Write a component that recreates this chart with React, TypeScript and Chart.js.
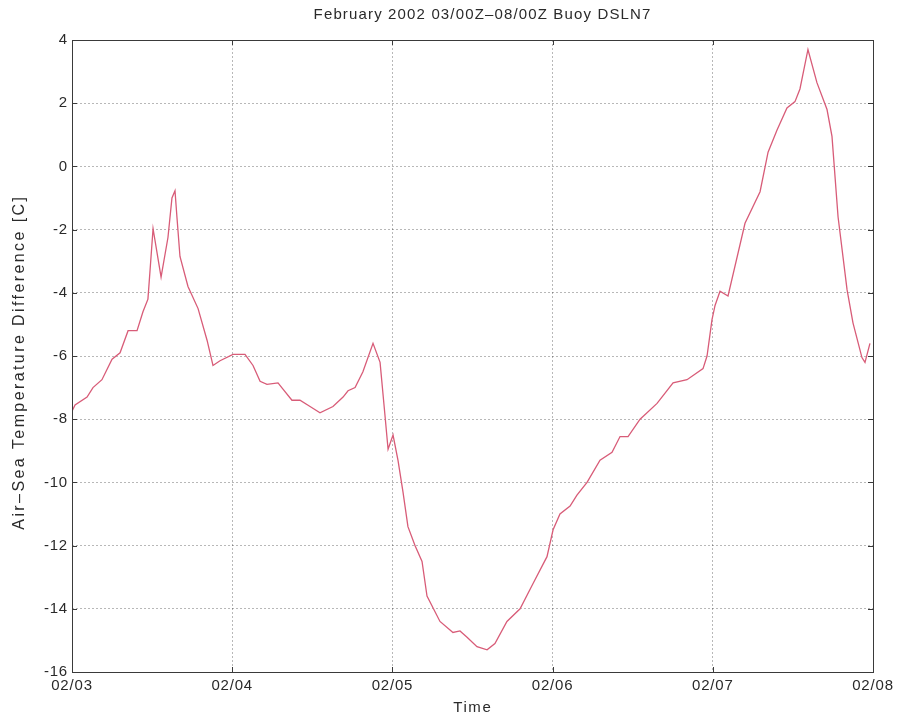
import React, { useEffect, useRef } from "react";
import { Chart, registerables } from "chart.js";

Chart.register(...registerables);

// Time in days after 02/03 00Z
const timeDays = [
  0, 0.019, 0.094, 0.131, 0.187, 0.25, 0.3, 0.35, 0.406, 0.443, 0.474, 0.487,
  0.506, 0.556, 0.599, 0.624, 0.643, 0.655, 0.674, 0.724, 0.787, 0.843, 0.88,
  0.924, 1.005, 1.08, 1.13, 1.174, 1.217, 1.286, 1.317, 1.373, 1.423, 1.486,
  1.548, 1.629, 1.692, 1.723, 1.767, 1.816, 1.879, 1.923, 1.954, 1.973, 2.004,
  2.035, 2.066, 2.097, 2.141, 2.185, 2.216, 2.297, 2.378, 2.422, 2.466, 2.528,
  2.591, 2.64, 2.715, 2.797, 2.878, 2.965, 3.003, 3.046, 3.109, 3.152, 3.215,
  3.296, 3.371, 3.421, 3.471, 3.546, 3.652, 3.752, 3.839, 3.939, 3.964, 3.995,
  4.014, 4.045, 4.095, 4.201, 4.295, 4.345, 4.401, 4.463, 4.513, 4.544, 4.594,
  4.65, 4.713, 4.744, 4.782, 4.838, 4.875, 4.931, 4.95, 4.981,
];

// Air-Sea temperature difference [C]
const tempDiff = [
  -7.75, -7.55, -7.3, -7.0, -6.75, -6.1, -5.9, -5.2, -5.2, -4.6, -4.2, -3.3,
  -1.97, -3.5, -2.25, -1.0, -0.77, -1.6, -2.85, -3.8, -4.5, -5.5, -6.3,
  -6.15, -5.95, -5.95, -6.3, -6.8, -6.9, -6.85, -7.05, -7.4, -7.4, -7.6,
  -7.8, -7.6, -7.3, -7.1, -7.0, -6.5, -5.6, -6.2, -7.9, -8.95, -8.5,
  -9.3, -10.3, -11.4, -12.0, -12.5, -13.6, -14.4, -14.75, -14.7, -14.9, -15.2,
  -15.3, -15.1, -14.4, -14.0, -13.2, -12.35, -11.5, -11.0, -10.75, -10.4, -10.0,
  -9.3, -9.05, -8.55, -8.55, -8.0, -7.5, -6.85, -6.75, -6.4, -6.0, -4.85,
  -4.4, -3.95, -4.1, -1.8, -0.8, 0.45, 1.15, 1.85, 2.05, 2.45, 3.7,
  2.65, 1.8, 0.95, -1.6, -3.9, -4.95, -6.05, -6.2, -5.6,
];

const xTickLabels = ["02/03", "02/04", "02/05", "02/06", "02/07", "02/08"];
const yTicks = [4, 2, 0, -2, -4, -6, -8, -10, -12, -14, -16];

const titleText = "February 2002 03/00Z\u201308/00Z Buoy DSLN7";
const xTitle = "Time";
const yTitle = "Air\u2013Sea Temperature Difference [C]";

const FONT = "'Liberation Sans', Arial, Helvetica, sans-serif";
const TEXT_COLOR = "#2a2a2a";

// draws a text stretched (by letter spacing) to a target width
function spacedText(ctx: any, text: string, cx: number, cy: number, size: number, targetW: number, rot: number) {
  ctx.save();
  ctx.font = `${size}px ${FONT}`;
  ctx.letterSpacing = "0px";
  const w = ctx.measureText(text).width;
  const ls = Math.max(0, (targetW - w) / text.length);
  ctx.letterSpacing = `${ls}px`;
  ctx.fillStyle = TEXT_COLOR;
  ctx.textAlign = "center";
  ctx.textBaseline = "middle";
  ctx.translate(cx + (rot ? 0 : ls / 2), cy + (rot ? ls / 2 : 0));
  ctx.rotate(rot);
  ctx.fillText(text, 0, 0);
  ctx.restore();
}

const boxPlugin = {
  id: "matlabBox",
  beforeDraw(chart: any) {
    chart.ctx.letterSpacing = "0.8px";
  },
  afterDraw(chart: any) {
    const { ctx, chartArea } = chart;
    const { left, right, top, bottom } = chartArea;
    const xs = chart.scales.x;
    const ys = chart.scales.y;
    ctx.save();
    ctx.strokeStyle = "#3a3a3a";
    ctx.lineWidth = 1;
    ctx.setLineDash([]);
    ctx.strokeRect(Math.round(left) + 0.5, Math.round(top) + 0.5, Math.round(right - left), Math.round(bottom - top));
    const tl = 5;
    ctx.beginPath();
    xs.ticks.forEach((t: any) => {
      const px = Math.round(xs.getPixelForValue(t.value)) + 0.5;
      ctx.moveTo(px, bottom);
      ctx.lineTo(px, bottom - tl);
      ctx.moveTo(px, top);
      ctx.lineTo(px, top + tl);
    });
    ys.ticks.forEach((t: any) => {
      const py = Math.round(ys.getPixelForValue(t.value)) + 0.5;
      ctx.moveTo(left, py);
      ctx.lineTo(left + tl, py);
      ctx.moveTo(right, py);
      ctx.lineTo(right - tl, py);
    });
    ctx.stroke();
    ctx.restore();

    spacedText(ctx, titleText, 482, 15, 15, 338, 0);
    spacedText(ctx, xTitle, 472, 708, 15, 39, 0);
    spacedText(ctx, yTitle, 20, 361, 16, 335, -Math.PI / 2);
  },
};

export default function App() {
  const ref = useRef<HTMLCanvasElement | null>(null);

  useEffect(() => {
    document.body.style.margin = "0";
    document.body.style.background = "#fff";
    const canvas = ref.current;
    if (!canvas) return;
    const data = timeDays.map((t, i) => ({ x: t, y: tempDiff[i] }));
    const chart = new Chart(canvas, {
      type: "line",
      data: {
        datasets: [
          {
            data,
            borderColor: "#d85c78",
            borderWidth: 1.3,
            pointRadius: 0,
            fill: false,
            tension: 0,
          },
        ],
      },
      options: {
        animation: false,
        responsive: false,
        maintainAspectRatio: false,
        layout: { padding: { left: 0, right: 28, top: 40, bottom: 0 } },
        plugins: {
          legend: { display: false },
          tooltip: { enabled: false },
          title: { display: false },
        },
        scales: {
          x: {
            type: "linear",
            min: 0,
            max: 5,
            afterFit: (s: any) => {
              s.height = 49;
            },
            afterBuildTicks: (s: any) => {
              s.ticks = xTickLabels.map((_, i) => ({ value: i }));
            },
            ticks: {
              color: TEXT_COLOR,
              font: { family: FONT, size: 15 },
              padding: 5,
              maxRotation: 0,
              autoSkip: false,
              callback: (v: any) => xTickLabels[Math.round(Number(v))] ?? "",
            },
            grid: {
              color: "rgba(0,0,0,0.28)",
              drawTicks: false,
              lineWidth: 1,
            },
            border: { display: false, dash: [2, 2] },
          },
          y: {
            type: "linear",
            min: -16,
            max: 4,
            afterFit: (s: any) => {
              s.width = 72;
            },
            afterBuildTicks: (s: any) => {
              s.ticks = yTicks.map((v) => ({ value: v }));
            },
            ticks: {
              color: TEXT_COLOR,
              font: { family: FONT, size: 15 },
              padding: 4,
              autoSkip: false,
            },
            grid: {
              color: "rgba(0,0,0,0.28)",
              drawTicks: false,
              lineWidth: 1,
            },
            border: { display: false, dash: [2, 2] },
          },
        },
      },
      plugins: [boxPlugin],
    });
    return () => chart.destroy();
  }, []);

  return (
    <div style={{ position: "absolute", left: 0, top: 0, width: 901, height: 721, background: "#fff" }}>
      <canvas ref={ref} width={901} height={721} style={{ width: 901, height: 721, display: "block" }} />
    </div>
  );
}
